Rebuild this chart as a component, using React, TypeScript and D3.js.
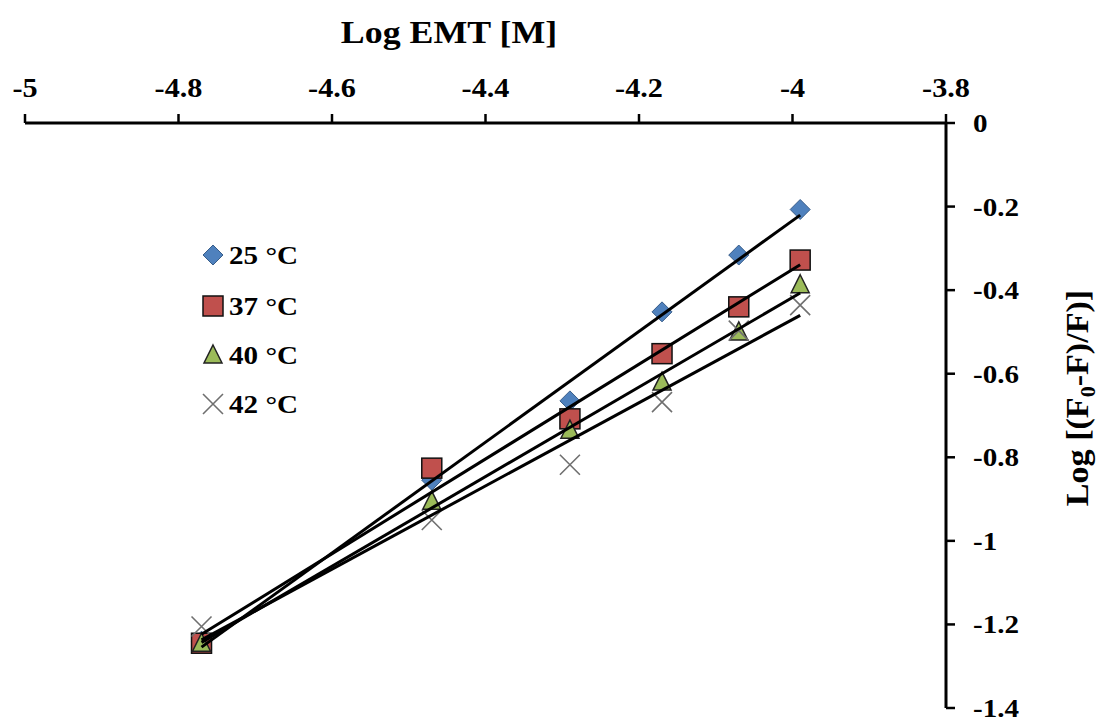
import React from "react";
import * as d3 from "d3";

const xVals = [-4.77, -4.47, -4.29, -4.17, -4.07, -3.99];
const t25 = [-1.24, -0.855, -0.665, -0.452, -0.316, -0.207];
const t37 = [-1.245, -0.826, -0.708, -0.552, -0.44, -0.328];
const t40 = [-1.245, -0.905, -0.735, -0.62, -0.5, -0.387];
const t42 = [-1.205, -0.95, -0.818, -0.668, -0.497, -0.436];
const seriesNames = ["25 °C", "37 °C", "40 °C", "42 °C"];
const xTicks = [-5, -4.8, -4.6, -4.4, -4.2, -4, -3.8];
const yTicks = [0, -0.2, -0.4, -0.6, -0.8, -1, -1.2, -1.4];

const W = 1105;
const H = 723;
const FONT = "'Liberation Serif', 'Times New Roman', serif";
const SX = 1.12;

function fit(xs: number[], ys: number[]) {
  const mx = d3.mean(xs)!;
  const my = d3.mean(ys)!;
  let sxy = 0, sxx = 0;
  xs.forEach((x, i) => {
    sxy += (x - mx) * (ys[i] - my);
    sxx += (x - mx) * (x - mx);
  });
  const b = sxy / sxx;
  return (x: number) => my + b * (x - mx);
}

function Marker({ kind, x, y }: { kind: number; x: number; y: number }) {
  if (kind === 0) {
    const s = 10;
    return (
      <path
        d={`M${x},${y - s}L${x + s},${y}L${x},${y + s}L${x - s},${y}Z`}
        fill="#4F81BD"
        stroke="#385D8A"
        strokeWidth={1}
      />
    );
  }
  if (kind === 1) {
    const s = 10;
    return <rect x={x - s} y={y - s} width={2 * s} height={2 * s} fill="#C0504D" stroke="#111" strokeWidth={1.5} />;
  }
  if (kind === 2) {
    const s = 9;
    return (
      <path
        d={`M${x},${y - s - 1}L${x + s},${y + s - 1}L${x - s},${y + s - 1}Z`}
        fill="#9BBB59"
        stroke="#222"
        strokeWidth={1.5}
      />
    );
  }
  const s = 10;
  return (
    <path
      d={`M${x - s},${y - s}L${x + s},${y + s}M${x + s},${y - s}L${x - s},${y + s}`}
      stroke="#6f6f6f"
      strokeWidth={1.6}
      fill="none"
    />
  );
}

function SText({ x, y, size, anchor, children }: any) {
  return (
    <text
      transform={`translate(${x},${y}) scale(${SX},1)`}
      fontFamily={FONT}
      fontWeight="bold"
      fontSize={size}
      textAnchor={anchor}
      fill="#000"
    >
      {children}
    </text>
  );
}

export default function App() {
  const x = d3.scaleLinear().domain([-5, -3.8]).range([25, 946]);
  const y = d3.scaleLinear().domain([0, -1.4]).range([123, 708]);
  const series = [t25, t37, t40, t42];
  const x0 = d3.min(xVals)!;
  const x1 = d3.max(xVals)!;
  const line = d3
    .line<[number, number]>()
    .x((d) => x(d[0]))
    .y((d) => y(d[1]));

  return (
    <div style={{ position: "absolute", left: 0, top: 0 }}>
      <svg width={W} height={H} style={{ display: "block", background: "#fff" }}>
        {/* axes */}
        <line x1={x(-5)} x2={x(-3.8)} y1={y(0)} y2={y(0)} stroke="#000" strokeWidth={3} />
        <line x1={x(-3.8)} x2={x(-3.8)} y1={y(0)} y2={y(-1.4)} stroke="#000" strokeWidth={3} />
        {xTicks.map((t) => (
          <g key={"xt" + t}>
            <line x1={x(t)} x2={x(t)} y1={y(0)} y2={y(0) - 9} stroke="#000" strokeWidth={2.5} />
            <SText x={x(t)} y={97} size={27} anchor="middle">
              {String(t)}
            </SText>
          </g>
        ))}
        {yTicks.map((t) => (
          <g key={"yt" + t}>
            <line x1={x(-3.8)} x2={x(-3.8) + 9} y1={y(t)} y2={y(t)} stroke="#000" strokeWidth={2.5} />
            <SText x={973} y={y(t) + 9} size={26} anchor="start">
              {String(t)}
            </SText>
          </g>
        ))}
        {/* titles */}
        <SText x={449} y={43} size={32} anchor="middle">
          Log EMT [M]
        </SText>
        <g transform={`translate(1088,398) rotate(-90)`}>
          <text
            transform={`scale(1.1,1)`}
            fontFamily={FONT}
            fontWeight="bold"
            fontSize={31}
            textAnchor="middle"
            fill="#000"
          >
            Log [(F<tspan fontSize={20} dy={7}>0</tspan>
            <tspan dy={-7}>-F)/F)]</tspan>
          </text>
        </g>
        {/* markers */}
        {series.map((s, k) => (
          <g key={"m" + k}>
            {s.map((v, i) => (
              <Marker key={i} kind={k} x={x(xVals[i])} y={y(v)} />
            ))}
          </g>
        ))}
        {/* trendlines */}
        {series.map((s, k) => {
          const f = fit(xVals, s);
          return (
            <path
              key={"l" + k}
              d={line([
                [x0, f(x0)],
                [x1, f(x1)],
              ])!}
              stroke="#000"
              strokeWidth={3}
              fill="none"
            />
          );
        })}
        {/* legend */}
        {seriesNames.map((n, k) => {
          const ly = [255, 306, 355, 404][k];
          return (
            <g key={"lg" + k}>
              <Marker kind={k} x={213} y={ly} />
              <SText x={229} y={ly + 9} size={26} anchor="start">
                {n}
              </SText>
            </g>
          );
        })}
      </svg>
    </div>
  );
}
